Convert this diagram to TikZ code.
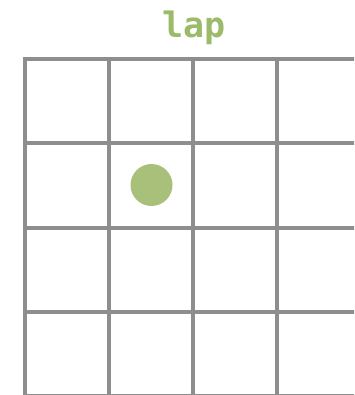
\documentclass[tikz,border=0pt]{standalone}
\usepackage{fontspec}
\newfontfamily\monobold{DejaVu Sans Mono}[BoldFont={DejaVu Sans Mono Bold}]
\definecolor{lapgreen}{RGB}{155,187,106}
\definecolor{dotgreen}{RGB}{168,192,122}
\definecolor{gridgray}{RGB}{142,142,142}
\tikzset{
  gridline/.style={draw=gridgray, line width=4pt},
  ttl/.style={font=\monobold\bfseries\fontsize{35}{40}\selectfont, text=lapgreen, inner sep=0pt},
  dotmark/.style={circle, fill=dotgreen, minimum size=42pt, inner sep=0pt},
}
\begin{document}
\begin{tikzpicture}[x=1pt, y=-1pt]
\useasboundingbox (0,0) rectangle (354,395);
\clip (0,0) rectangle (354,395);
% grid
\foreach \i in {0,...,4} {
  \draw[gridline] (25+84*\i,59.5) -- (25+84*\i,400);
  \draw[gridline] (23,59.5+84*\i) -- (400,59.5+84*\i);
}
\node[ttl, anchor=base] (title) at (194,38) {lap};
\node[dotmark] (dot) at (151.5,185) {};
\end{tikzpicture}
\end{document}
